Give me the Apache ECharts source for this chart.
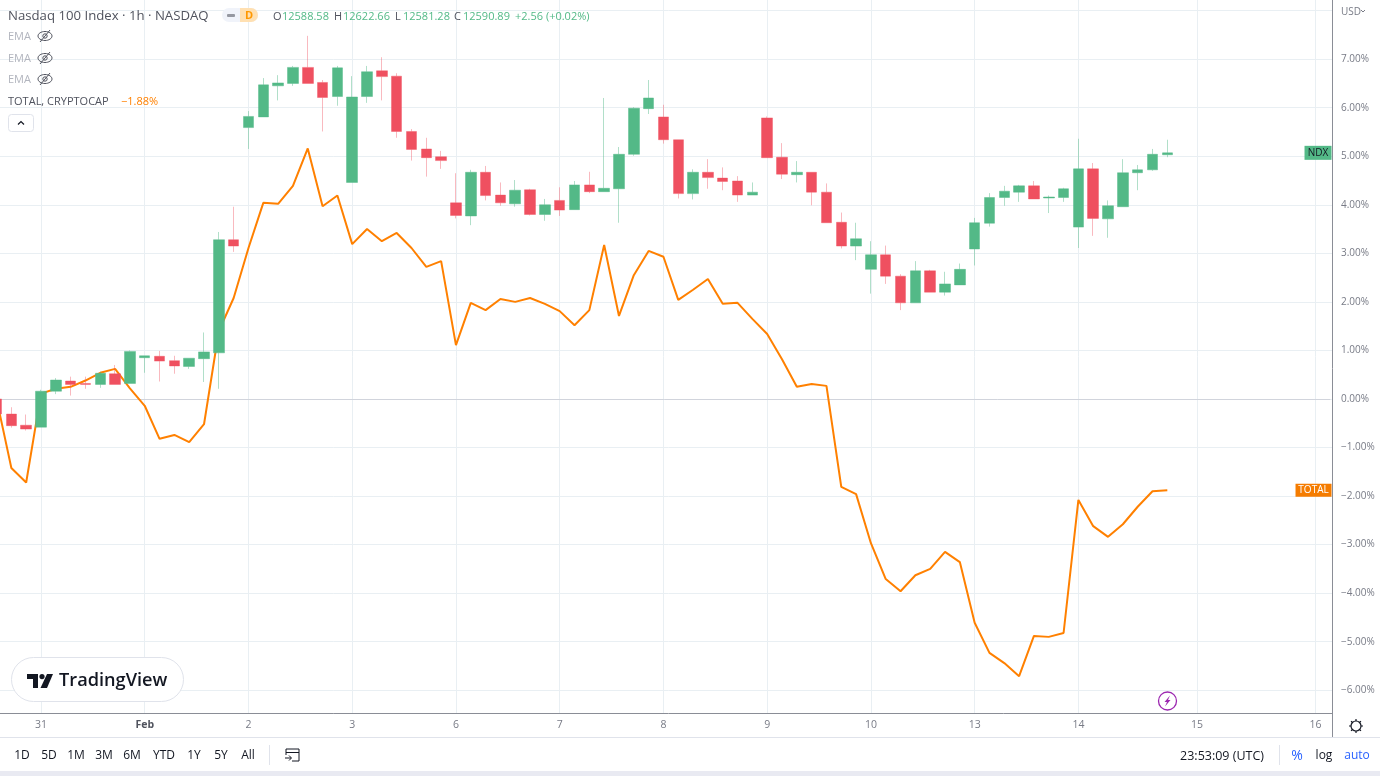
<!DOCTYPE html>
<html><head><meta charset="utf-8">
<style>html,body{margin:0;padding:0;background:#fff}#c{width:1380px;height:776px}</style>
<script src="https://cdn.jsdelivr.net/npm/echarts@6/dist/echarts.min.js"></script>
</head><body><div id="c"></div>
<script>
// Category labels: one hourly bar per slot, blank where no date label is shown
const dayLabels = {3:'31',10:'Feb',17:'2',24:'3',31:'6',38:'7',45:'8',52:'9',59:'10',66:'13',73:'14',81:'15',89:'16'};
const categories = Array.from({length:91},(_,i)=>dayLabels[i]||'');

// NDX, percent change: open, close, low, high
const ndxOpen = [0,-.31,-.54,-.58,.16,.37,.32,.30,.52,.32,.85,.88,.79,.67,.83,.95,3.28,5.59,5.81,6.45,6.50,6.83,6.52,6.23,4.46,6.23,6.76,6.65,5.51,5.15,4.99,4.04,3.77,4.67,4.20,4.02,4.31,3.80,4.09,3.90,4.41,4.27,4.33,5.04,5.98,5.81,5.34,4.23,4.67,4.55,4.49,4.20,5.79,4.98,4.62,4.67,4.26,3.64,3.15,2.67,2.97,2.53,1.98,2.64,2.20,2.35,3.09,3.62,4.15,4.26,4.39,4.14,4.15,3.54,4.74,3.71,3.96,4.66,4.72,5.03];
const ndxClose = [-.31,-.55,-.62,.16,.39,.30,.30,.53,.30,.98,.89,.78,.68,.84,.97,3.28,3.15,5.82,6.47,6.51,6.83,6.50,6.21,6.82,6.22,6.74,6.64,5.51,5.14,4.97,4.91,3.78,4.67,4.19,4.04,4.30,3.80,4.00,3.89,4.41,4.27,4.34,5.04,5.99,6.20,5.34,4.23,4.67,4.56,4.48,4.20,4.26,4.97,4.63,4.67,4.26,3.63,3.15,3.30,2.97,2.53,1.98,2.64,2.20,2.37,2.67,3.63,4.15,4.28,4.39,4.12,4.16,4.33,4.74,3.72,3.98,4.66,4.72,5.04,5.07];
const ndxLow = [-.31,-.59,-.65,-.58,.10,.07,.21,.23,.30,.32,.54,.36,.52,.62,.35,.21,3.03,5.15,5.81,6.15,6.45,6.50,5.51,6.04,4.46,6.10,6.15,5.38,4.91,4.58,4.74,3.72,3.58,4.09,3.98,3.96,3.78,3.67,3.77,3.90,4.24,4.27,3.63,5.01,5.87,5.26,4.13,4.11,4.33,4.30,4.06,4.20,4.97,4.53,4.46,3.99,3.63,3.10,2.86,2.17,2.37,1.83,1.98,2.20,2.13,2.35,2.75,3.55,3.98,4.06,4.12,3.83,4.06,3.11,3.36,3.32,3.96,4.30,4.70,4.98];
const ndxHigh = [0,-.17,-.32,.19,.43,.46,.46,.56,.70,1.00,.89,.99,.89,.84,1.37,3.44,3.96,5.93,6.61,6.67,6.86,7.48,6.57,6.86,6.65,6.86,7.04,6.71,5.56,5.38,5.11,4.65,4.72,4.80,4.46,4.51,4.33,4.12,4.36,4.49,4.68,6.20,5.19,6.01,6.57,6.06,5.34,4.73,4.94,4.77,4.59,4.46,5.82,5.27,4.90,4.67,4.44,3.84,3.63,3.25,3.16,2.57,2.84,2.66,2.62,2.79,3.73,4.24,4.39,4.41,4.49,4.19,4.35,5.36,4.86,4.09,4.94,4.82,5.15,5.34];
// TOTAL, CRYPTOCAP, percent change
const totalValues = [0,-1.42,-1.72,.11,.21,.25,.38,.54,.62,.22,-.14,-.82,-.74,-.89,-.52,1.40,2.08,3.11,4.04,4.02,4.39,5.16,3.97,4.19,3.19,3.50,3.25,3.42,3.11,2.72,2.84,1.11,1.98,1.83,2.06,2.00,2.08,1.96,1.81,1.52,1.83,3.17,1.71,2.55,3.05,2.93,2.04,2.25,2.47,1.96,1.98,1.65,1.34,.82,.25,.31,.27,-1.81,-1.96,-2.97,-3.71,-3.96,-3.63,-3.50,-3.15,-3.36,-4.61,-5.23,-5.44,-5.71,-4.88,-4.90,-4.82,-2.08,-2.62,-2.84,-2.58,-2.22,-1.90,-1.88];
const rangeButtons = ['1D','5D','1M','3M','6M','YTD','1Y','5Y','All'];
const rangeButtonX = [22,49,76,104,132,164,194,221,248];

const FONT = '"Open Sans", "Noto Sans", sans-serif';
const GREEN='#53b987', RED='#ef5060', ORANGE='#ff8000', GRID='#e9eff3', AXIS='#8a8d96';
const yMin=-6.468, yMax=8.218;

function txt(x,y,s,fill,size,extra){
  return {type:'text',z:10,x:x,y:y,style:Object.assign({text:s,fill:fill,font:(size||12)+'px '+FONT,textVerticalAlign:'middle',textAlign:'left'},extra||{})};
}
function eye(cx,cy){
  const s={stroke:'#50535e',fill:'none',lineWidth:1};
  return [
    {type:'ellipse',z:10,shape:{cx:cx,cy:cy,rx:7,ry:4.5},style:s},
    {type:'circle',z:10,shape:{cx:cx,cy:cy,r:2.2},style:s},
    {type:'line',z:10,shape:{x1:cx-5,y1:cy+6,x2:cx+5,y2:cy-6},style:s}
  ];
}
const g=[];
// right-hand price strip and bottom chrome
g.push({type:'rect',z:1,shape:{x:1332,y:0,width:48,height:737},style:{fill:'#fff'}});
g.push({type:'line',z:2,shape:{x1:1332.5,y1:0,x2:1332.5,y2:737},style:{stroke:AXIS,lineWidth:1}});
g.push({type:'rect',z:1,shape:{x:0,y:737,width:1380,height:39},style:{fill:'#fff'}});
g.push({type:'line',z:2,shape:{x1:0,y1:737.5,x2:1380,y2:737.5},style:{stroke:'#e0e3eb',lineWidth:1}});
g.push({type:'rect',z:2,shape:{x:0,y:771,width:1380,height:5},style:{fill:'#e9eaf2'}});
// header
g.push(txt(8,16,'Nasdaq 100 Index · 1h · NASDAQ','#50535e',13.2));
g.push({type:'rect',z:10,shape:{x:222,y:8,width:36,height:14,r:7},style:{fill:'#f0f3fa'}});
g.push({type:'rect',z:10,shape:{x:240,y:8,width:18,height:14,r:[0,7,7,0]},style:{fill:'#ffe0b2'}});
g.push({type:'rect',z:11,shape:{x:227,y:14,width:8,height:3,r:1},style:{fill:'#9598a1'}});
g.push(txt(249,16,'D','#ff9800',11,{textAlign:'center',font:'bold 11px '+FONT}));
[[273,'O'],[334,'H'],[395,'L'],[454,'C']].forEach(p=>g.push(txt(p[0],16.5,p[1],'#50535e',11)));
[[282,'12588.58'],[343,'12622.66'],[403,'12581.28'],[463,'12590.89'],[515,'+2.56 (+0.02%)']].forEach(p=>g.push(txt(p[0],16.5,p[1],GREEN,11)));
[36,58,79].forEach(y=>{g.push(txt(8,y+1,'EMA','#b2b5be',11));eye(45,y).forEach(e=>g.push(e));});
g.push(txt(8,102,'TOTAL, CRYPTOCAP','#50535e',11));
g.push(txt(121,102,'−1.88%',ORANGE,11));
g.push({type:'rect',z:10,shape:{x:8.5,y:114.5,width:25,height:17,r:3},style:{fill:'#fff',stroke:'#e0e3eb'}});
g.push({type:'polyline',z:11,shape:{points:[[18,124.5],[21,121.5],[24,124.5]]},style:{stroke:'#131722',fill:'none',lineWidth:1.2}});
// logo pill
g.push({type:'rect',z:10,shape:{x:11.5,y:657.5,width:172,height:44,r:22},style:{fill:'#fff',stroke:'#e0e3eb'}});
g.push({type:'polygon',z:11,shape:{points:[[27,674],[38,674],[38,688],[33,688],[33,679],[27,679]]},style:{fill:'#131722'}});
g.push({type:'circle',z:11,shape:{cx:42,cy:676.6,r:2.6},style:{fill:'#131722'}});
g.push({type:'polygon',z:11,shape:{points:[[47,674],[53,674],[47,688],[40.5,688]]},style:{fill:'#131722'}});
g.push(txt(59,681,'TradingView','#131722',18,{font:'600 18.2px '+FONT}));
// lightning
g.push({type:'circle',z:10,shape:{cx:1167.5,cy:701,r:9},style:{fill:'#fff',stroke:'#9c27b0',lineWidth:1.3}});
g.push({type:'polygon',z:11,shape:{points:[[1170,695.5],[1164.5,702],[1167,702],[1165,706.5],[1170.5,700],[1168,700]]},style:{fill:'#9c27b0'}});
// axis corner
g.push(txt(1341,12,'USD','#787b86',10));
g.push({type:'polyline',z:11,shape:{points:[[1361,10],[1363,12],[1365,10]]},style:{stroke:'#787b86',fill:'none',lineWidth:1}});
g.push({type:'circle',z:10,shape:{cx:1356,cy:726,r:5},style:{fill:'#fff',stroke:'#131722',lineWidth:1.2}});
for(const a of [0,45,90,135,180,225,270,315]){const r=a*Math.PI/180;
  g.push({type:'line',z:10,shape:{x1:1356+5*Math.cos(r),y1:726+5*Math.sin(r),x2:1356+7*Math.cos(r),y2:726+7*Math.sin(r)},style:{stroke:'#131722',lineWidth:1.2}});}
// footer
rangeButtons.forEach((b,i)=>g.push(txt(rangeButtonX[i],756,b,'#131722',12,{textAlign:'center'})));
g.push({type:'line',z:10,shape:{x1:269.5,y1:745,x2:269.5,y2:765},style:{stroke:'#e0e3eb'}});
g.push({type:'polyline',z:10,shape:{points:[[286,755],[286,749],[299,749],[299,761],[292,761]]},style:{stroke:'#131722',fill:'none',lineWidth:1}});
g.push({type:'line',z:10,shape:{x1:286,y1:752.5,x2:299,y2:752.5},style:{stroke:'#131722'}});
g.push({type:'line',z:10,shape:{x1:285,y1:758,x2:291,y2:758},style:{stroke:'#131722'}});
g.push({type:'polyline',z:10,shape:{points:[[289,755.5],[291.5,758],[289,760.5]]},style:{stroke:'#131722',fill:'none'}});
g.push(txt(1264,756,'23:53:09 (UTC)','#131722',12.5,{textAlign:'right'}));
g.push({type:'line',z:10,shape:{x1:1279.5,y1:745,x2:1279.5,y2:765},style:{stroke:'#e0e3eb'}});
g.push(txt(1297,756,'%','#2962ff',14,{textAlign:'center'}));
g.push(txt(1324,756,'log','#131722',12,{textAlign:'center'}));
g.push(txt(1357,756,'auto','#2962ff',12,{textAlign:'center'}));

const hasLabel=(i)=>!!categories[i];
const chart=echarts.init(document.getElementById('c'),null,{renderer:'canvas',width:1380,height:776});
chart.setOption({
  animation:false,
  backgroundColor:'#fff',
  grid:{left:-10.87,top:0,width:1348.62,height:713,containLabel:false,outerBoundsMode:'none'},
  xAxis:{type:'category',data:categories,boundaryGap:true,
    axisLine:{onZero:false,lineStyle:{color:AXIS,width:1}},
    axisTick:{show:false,alignWithLabel:true,interval:hasLabel},
    splitLine:{show:true,alignWithLabel:true,interval:hasLabel,lineStyle:{color:GRID,width:1}},
    axisLabel:{interval:hasLabel,color:'#787b86',fontSize:10.5,fontFamily:FONT,margin:7,hideOverlap:false,
      formatter:(v)=>v==='Feb'?'{b|Feb}':v,rich:{b:{color:'#50535e',fontWeight:'bold',fontSize:10.5,fontFamily:FONT}}}
  },
  yAxis:[
    {type:'value',min:yMin,max:yMax,splitNumber:14,position:'right',
     axisLine:{show:false},axisTick:{show:false},axisLabel:{show:false},
     splitLine:{show:true,showMinLine:false,showMaxLine:false,lineStyle:{color:GRID,width:1}}},
    {type:'value',min:yMin,max:yMax,splitNumber:14,position:'right',offset:-5.8,z:3,
     axisLine:{show:false},axisTick:{show:false},splitLine:{show:false},
     axisLabel:{inside:false,align:'left',margin:9,padding:[2,0,0,0],color:'#787b86',fontSize:10,fontFamily:FONT,showMinLabel:false,showMaxLabel:false,
       formatter:(v)=>{if(Math.abs(v-Math.round(v))>1e-6||v>7||v<-6)return '';return (v<0?'−':'')+Math.abs(v).toFixed(2)+'%';}}}
  ],
  graphic:{elements:g},
  series:[
    {name:'TOTAL',type:'line',z:2,data:totalValues,symbol:'none',lineStyle:{color:ORANGE,width:2},
     markPoint:{silent:true,z:5,symbol:'rect',symbolSize:[36,13],symbolOffset:[-2,0],
       label:{show:true,formatter:'TOTAL',color:'#fff',fontSize:10,fontFamily:FONT},itemStyle:{color:'#f57c00'},
       data:[{coord:[89,totalValues[79]]}]}
    },
    {name:'NDX',type:'candlestick',z:3,barWidth:11,
     data:ndxOpen.map((o,i)=>[o,ndxClose[i],ndxLow[i],ndxHigh[i]]),
     itemStyle:{color:GREEN,color0:RED,borderColor:'rgba(83,185,135,0.45)',borderColor0:'rgba(239,80,96,0.4)',borderWidth:1},
     markLine:{silent:true,z:1,symbol:'none',label:{show:false},lineStyle:{color:'#d1d4dc',width:1,type:'solid'},
       data:[[{coord:[0,0]},{coord:[90,0]}]]},
     markPoint:{silent:true,z:5,symbol:'rect',symbolSize:[27,14],symbolOffset:[2.5,0],
       label:{show:true,formatter:'NDX',color:'#131722',fontSize:10,fontFamily:FONT},itemStyle:{color:GREEN},
       data:[{coord:[89,ndxClose[79]]}]}
    }
  ]
});
</script></body></html>
